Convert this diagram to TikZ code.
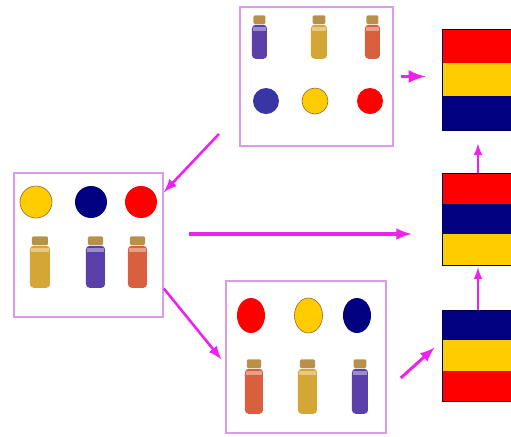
\documentclass[tikz,border=0pt]{standalone}
\usetikzlibrary{chains,fit,positioning,shapes.geometric,calc}
\definecolor{linkpink}{HTML}{EE22EE}
\definecolor{boxline}{HTML}{DD99EE}
\definecolor{flagred}{HTML}{FF0000}
\definecolor{flagyellow}{HTML}{FFCC00}
\definecolor{flagblue}{HTML}{000080}
\definecolor{dotblue}{HTML}{3A35A5}
\definecolor{vialgold}{HTML}{D4A635}
\definecolor{vialviolet}{HTML}{5B40AA}
\definecolor{vialrust}{HTML}{D8603E}
\definecolor{corkbrown}{HTML}{B8904A}
\tikzstyle{panel}=[draw=boxline,line width=0.8pt,inner sep=0pt]
\tikzstyle{dot}=[circle,inner sep=0pt,minimum size=13pt]
\tikzstyle{bigdot}=[circle,inner sep=0pt,minimum size=16pt]
\tikzstyle{egg}=[ellipse,inner sep=0pt,minimum width=14pt,minimum height=17.5pt]
\tikzstyle{stripe}=[inner sep=0pt,outer sep=0pt,minimum width=36pt]
\tikzstyle{flagedge}=[draw=flagblue!70!black,line width=0.4pt,inner sep=0pt]
\tikzstyle{cork}=[fill=corkbrown,rounded corners=0.6pt,inner sep=0pt,minimum height=4.3pt]
\tikzstyle{vialbody}=[rounded corners=1.8pt,inner sep=0pt]
\tikzstyle{glint}=[fill=white,opacity=0.4,inner sep=0pt,minimum height=2pt]
\tikzstyle{link}=[draw=linkpink,-latex]
\newcommand{\vialnode}[6]{%
  \node[cork,minimum width=#4*0.4pt,anchor=north] (#1c) at (#2,#3) {};
  \node[vialbody,fill=#6,minimum width=#4*0.5pt,minimum height=#5*0.5pt,anchor=north] (#1) at (#1c.south) {};
  \node[glint,minimum width=#4*0.45pt,anchor=north] at ([yshift=-1pt]#1.north) {};
}

\begin{document}
\begin{tikzpicture}[x=0.5pt,y=-0.5pt]
\useasboundingbox (0,0) rectangle (511,436);

\node[panel,minimum width=76.5pt,minimum height=69.5pt] (topbox) at (316.5,76.5) {};
\node[panel,minimum width=74.5pt,minimum height=72pt] (leftbox) at (88.5,245) {};
\node[panel,minimum width=80pt,minimum height=76pt] (lowbox) at (306,357) {};

\vialnode{tv1}{259.5}{15}{15}{34}{vialviolet}
\vialnode{tv2}{319}{15}{16}{34}{vialgold}
\vialnode{tv3}{372.5}{15}{15}{34}{vialrust}
\node[dot,fill=dotblue] (td1) at (266,101) {};
\node[dot,fill=flagyellow,draw=brown!80!black,line width=0.3pt] (td2) at (315,101) {};
\node[dot,fill=flagred] (td3) at (370,101) {};

\node[bigdot,fill=flagyellow,draw=brown!80!black,line width=0.3pt] (ld1) at (36,202) {};
\node[bigdot,fill=flagblue] (ld2) at (91,202) {};
\node[bigdot,fill=flagred] (ld3) at (141,202) {};
\vialnode{lv1}{40}{236}{20}{42}{vialgold}
\vialnode{lv2}{95.5}{236}{19}{42}{vialviolet}
\vialnode{lv3}{137.5}{236}{19}{42}{vialrust}

\node[egg,fill=flagred] (bd1) at (251,315.5) {};
\node[egg,fill=flagyellow,draw=brown!80!black,line width=0.3pt] (bd2) at (308.5,315.5) {};
\node[egg,fill=flagblue] (bd3) at (357,315.5) {};
\vialnode{bv1}{254}{359}{18}{45}{vialrust}
\vialnode{bv2}{307.5}{359}{19}{45}{vialgold}
\vialnode{bv3}{360}{359}{16}{45}{vialviolet}

\begin{scope}[start chain=tf going below,node distance=0pt,stripe/.append style={minimum height=16.85pt}]
    \node[on chain=tf,stripe,fill=flagred,anchor=north] (tf1) at (478,29) {};
    \node[on chain=tf,stripe,fill=flagyellow] (tf2) {};
    \node[on chain=tf,stripe,fill=flagblue] (tf3) {};
\end{scope}
\node[flagedge,fit=(tf1)(tf3)] (tflag) {};

\begin{scope}[start chain=mf going below,node distance=0pt,stripe/.append style={minimum height=15.33pt}]
    \node[on chain=mf,stripe,fill=flagred,anchor=north] (mf1) at (478,173) {};
    \node[on chain=mf,stripe,fill=flagblue] (mf2) {};
    \node[on chain=mf,stripe,fill=flagyellow] (mf3) {};
\end{scope}
\node[flagedge,fit=(mf1)(mf3)] (mflag) {};

\begin{scope}[start chain=bf going below,node distance=0pt,stripe/.append style={minimum height=15.17pt}]
    \node[on chain=bf,stripe,fill=flagblue,anchor=north] (bf1) at (478,310) {};
    \node[on chain=bf,stripe,fill=flagyellow] (bf2) {};
    \node[on chain=bf,stripe,fill=flagred] (bf3) {};
\end{scope}
\node[flagedge,fit=(bf1)(bf3)] (bflag) {};

\coordinate (split) at (219,134);
\coordinate (midrow) at (0,234);
\draw[link,line width=1.9pt,shorten <=3.5pt,shorten >=8pt] (topbox.east) -- (topbox.east -| tflag.west);
\draw[link,line width=1.3pt] (split) -- (leftbox.35);
\draw[link,line width=1.6pt,shorten <=12.5pt,shorten >=15pt] (leftbox.east |- midrow) -- (mflag.west |- midrow);
\draw[link,line width=1.3pt,shorten >=3pt] (leftbox.-30) -- (lowbox.185);
\draw[link,line width=1.5pt] ($(lowbox.east)+(14,21)$) -- ($(bflag.west)+(-7,-8)$);
\draw[link,line width=1pt,shorten >=6.5pt] (mflag.north) -- (tflag.south);
\draw[link,line width=1pt,shorten >=1pt] (bflag.north) -- (mflag.south);
\end{tikzpicture}
\end{document}
